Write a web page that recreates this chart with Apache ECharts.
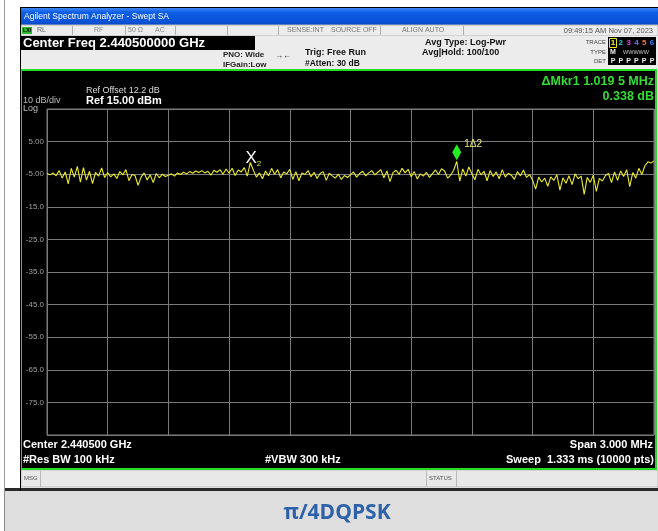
<!DOCTYPE html>
<html><head><meta charset="utf-8">
<script src="https://cdn.jsdelivr.net/npm/echarts@6/dist/echarts.min.js"></script>
<style>html,body{margin:0;padding:0;background:#fff}#c{width:658px;height:531px}</style>
</head><body><div id="c"></div>
<script>
// ---- data ----
const freqOffsetStartKHz = -1500;   // Center 2.440500 GHz, Span 3.000 MHz
const freqStepKHz = 15;
const traceDbm = [
 -4.8,-5.2,-4.6,-5.5,-3.9,-6.2,-4.3,-8.0,-3.2,-5.9,-2.6,-7.4,-3.0,-6.8,-4.1,-7.9,-4.4,-5.6,-3.1,-6.0,
 -4.5,-5.8,-4.9,-6.3,-4.2,-5.2,-3.6,-7.0,-5.1,-5.4,-8.4,-5.9,-4.6,-6.8,-5.2,-7.6,-4.8,-6.1,-5.0,-5.7,
 -5.3,-4.9,-5.6,-4.6,-5.1,-4.4,-4.9,-4.2,-4.7,-4.0,-4.5,-3.9,-4.6,-4.1,-5.3,-3.8,-4.4,-3.6,-5.0,-3.4,-4.7,-3.2,-5.4,-3.7,-4.3,-3.0,-5.6,
 -1.4,
 -3.8,-5.9,-4.6,-6.4,-4.0,-5.5,-3.2,-5.0,-3.6,-6.1,-4.3,-4.9,-3.5,-6.6,-4.2,-7.0,-4.6,-5.1,-3.9,-5.8,-4.4,-6.3,-4.8,-4.2,-6.9,-4.7,-5.5,-6.2,-5.0,-6.6,-5.4,-6.0,
 -5.2,-4.3,-5.9,-4.8,-4.1,-5.5,-4.6,-3.9,-5.2,-4.4,-3.6,-6.1,-4.0,-7.3,-4.5,-3.8,-5.0,-3.2,-4.6,-3.5,-5.8,-4.2,-6.5,-4.9,-5.6,-4.4,-6.0,-4.8,-3.7,-5.1,-3.3,-4.0,-6.2,-5.3,-3.8,
 -1.06,
 -7.1,-3.4,-5.6,-2.8,-4.9,-6.7,-3.5,-5.2,-4.1,-7.0,-3.9,-5.7,-4.3,-6.4,-3.6,-5.9,-4.7,-5.3,-6.6,-4.2,-5.5,-3.7,-6.0,-5.1,
 -6.8,-9.6,-5.9,-7.4,-6.2,-8.7,-5.8,-6.9,-5.2,-9.9,-6.1,-7.8,-5.5,-8.2,-4.9,-6.4,-5.6,-11.2,-6.0,-7.5,-5.3,-10.3,-6.3,-7.1,-5.4,
 -4.8,-7.6,-4.3,-6.9,-4.0,-5.7,-3.6,-8.8,-4.5,-6.2,-3.2,-5.1,-2.4,-1.2,-1.6,-0.9
];
const yMin = -85, yMax = 15, yStep = 10;
const yTickLabels = {'5':'5.00','-5':'-5.00','-15':'-15.0','-25':'-25.0','-35':'-35.0','-45':'-45.0','-55':'-55.0','-65':'-65.0','-75':'-75.0'};
const marker1Index = 135, marker2Index = 67;
const markerText = ['\u0394Mkr1 1.019 5 MHz', '0.338 dB'];

// ---- build ----
const seriesData = traceDbm.map((v, i) => [freqOffsetStartKHz + i * freqStepKHz, v]);
const FF = '"Liberation Sans", Arial, sans-serif';
function T(text, x, y, o) {
  o = o || {};
  return { type: 'text', z: o.z || 50, silent: true, style: {
    text: text, x: x, y: y, fill: o.fill || '#fff', fontSize: o.size || 9,
    fontWeight: o.bold ? 'bold' : 'normal', fontFamily: o.ff || FF,
    align: o.align || 'left', verticalAlign: 'middle' } };
}
function R(x, y, w, h, fill, o) {
  o = o || {};
  return { type: 'rect', z: o.z != null ? o.z : -50, silent: true, shape: { x: x, y: y, width: w, height: h },
    style: { fill: fill, stroke: o.stroke || null, lineWidth: o.lw || 1 } };
}
function L(x1, y1, x2, y2, c, w, z) {
  return { type: 'line', z: z != null ? z : -40, silent: true, shape: { x1: x1, y1: y1, x2: x2, y2: y2 },
    style: { stroke: c, lineWidth: w || 1 } };
}
const g = [];
// left margin line and outer frame
g.push(L(4.5, 0, 4.5, 491, '#9a9a9a', 1));
g.push(L(20, 7.5, 658, 7.5, '#000', 1));
g.push(L(20.5, 7, 20.5, 491, '#000', 1));
// title bar
g.push({ type: 'rect', z: -50, silent: true, shape: { x: 21, y: 8, width: 637, height: 17 },
  style: { fill: new echarts.graphic.LinearGradient(0, 0, 0, 1, [
    { offset: 0, color: '#3d86f2' }, { offset: 0.25, color: '#0f5ee6' }, { offset: 0.8, color: '#0a52d8' }, { offset: 1, color: '#0848c0' }]) } });
g.push(T('Agilent Spectrum Analyzer - Swept SA', 24, 17, { size: 8.5, fill: '#fff' }));
// status row
g.push(R(21, 25, 637, 11, '#ececec', { stroke: '#b8b8b8' }));
[72, 125, 175, 227, 278, 380, 463].forEach(x => g.push(L(x + 0.5, 26, x + 0.5, 35, '#b0b0b0', 1, -30)));
g.push(R(22, 27, 10, 7, '#2fb52f', { z: -20 }));
g.push(T('LXI', 27, 30.5, { size: 5, fill: '#000', bold: true, align: 'center' }));
g.push(T('RL', 37, 30.5, { size: 7, fill: '#666' }));
g.push(T('RF', 94, 30.5, { size: 7, fill: '#888' }));
g.push(T('50 \u03a9', 128, 30.5, { size: 7, fill: '#888' }));
g.push(T('AC', 155, 30.5, { size: 7, fill: '#888' }));
g.push(T('SENSE:INT', 287, 30.5, { size: 7, fill: '#777' }));
g.push(T('SOURCE OFF', 331, 30.5, { size: 7, fill: '#777' }));
g.push(T('ALIGN AUTO', 402, 30.5, { size: 7, fill: '#777' }));
g.push(T('09:49:15 AM Nov 07, 2023', 653, 30.5, { size: 7.5, fill: '#555', align: 'right' }));
// settings row
g.push(R(21, 36, 637, 34, '#ececec'));
g.push(R(21, 36, 234, 14, '#000', { z: -45 }));
g.push(T('Center Freq 2.440500000 GHz', 23, 43.5, { size: 13, bold: true }));
g.push(T('PNO: Wide', 223, 55, { size: 8, bold: true, fill: '#222' }));
g.push(T('IFGain:Low', 223, 65, { size: 8, bold: true, fill: '#222' }));
g.push(T('\u2192\u2190', 283, 55.5, { size: 8, bold: true, fill: '#222', align: 'center' }));
g.push(T('Trig: Free Run', 305, 53, { size: 9, bold: true, fill: '#111' }));
g.push(T('#Atten: 30 dB', 305, 63.5, { size: 8.5, bold: true, fill: '#111' }));
g.push(T('Avg Type: Log-Pwr', 425, 42.5, { size: 9, bold: true, fill: '#111' }));
g.push(T('Avg|Hold: 100/100', 422, 52.5, { size: 9, bold: true, fill: '#111' }));
g.push(T('TRACE', 606, 42, { size: 6, fill: '#444', align: 'right' }));
g.push(T('TYPE', 606, 52, { size: 6, fill: '#444', align: 'right' }));
g.push(T('DET', 606, 61, { size: 6, fill: '#444', align: 'right' }));
g.push(R(608, 37, 48, 28, '#000', { z: -45 }));
g.push(R(609.5, 38.5, 7, 9, 'transparent', { z: 40, stroke: '#e8e820' }));
const trCols = ['#f0f020', '#20d8d8', '#e040e0', '#7070ff', '#ff7040', '#4080ff'];
trCols.forEach((c, k) => {
  g.push(T(String(k + 1), 613 + k * 7.8, 43, { size: 8, bold: true, fill: c, align: 'center' }));
  g.push(T('P', 613 + k * 7.8, 61, { size: 7, bold: true, fill: '#eee', align: 'center' }));
});
g.push(T('M', 613, 52, { size: 7, bold: true, fill: '#eee', align: 'center' }));
g.push(T('WWWWW', 636, 52, { size: 5.5, fill: '#ccc', align: 'center' }));
// instrument screen
g.push(R(21, 70, 635, 399, '#000', { z: -48, stroke: '#22dd22', lw: 2 }));
g.push(T('10 dB/div', 23, 100.5, { size: 9, fill: '#bbb' }));
g.push(T('Log', 23, 108.5, { size: 9, fill: '#bbb' }));
g.push(T('Ref Offset 12.2 dB', 86, 90.5, { size: 9, fill: '#ddd' }));
g.push(T('Ref 15.00 dBm', 86, 100.5, { size: 11, bold: true, fill: '#fff' }));
g.push(T(markerText[0], 654, 82, { size: 12.5, bold: true, fill: '#33dd33', align: 'right' }));
g.push(T(markerText[1], 654, 96.5, { size: 12.5, bold: true, fill: '#33dd33', align: 'right' }));
g.push(T('Center 2.440500 GHz', 23, 445, { size: 11, bold: true }));
g.push(T('#Res BW 100 kHz', 23, 459.5, { size: 11, bold: true }));
g.push(T('#VBW 300 kHz', 265, 459.5, { size: 11, bold: true }));
g.push(T('Span 3.000 MHz', 653, 445, { size: 11, bold: true, align: 'right' }));
g.push(T('Sweep  1.333 ms (10000 pts)', 654, 459.5, { size: 11, bold: true, align: 'right' }));
// message bar
g.push(R(21, 470, 637, 17, '#e8e8e8', { stroke: '#bdbdbd' }));
g.push(L(40.5, 471, 40.5, 487, '#bbb', 1, -30));
g.push(L(426.5, 471, 426.5, 487, '#bbb', 1, -30));
g.push(L(456.5, 471, 456.5, 487, '#bbb', 1, -30));
g.push(T('MSG', 24, 478.5, { size: 6, fill: '#555' }));
g.push(T('STATUS', 429, 478.5, { size: 6, fill: '#555' }));
g.push(R(4, 488, 654, 3, '#2a2a2a'));
// caption band
g.push(R(4, 491, 654, 40, '#dedede'));
g.push(L(4.5, 491, 4.5, 531, '#888', 1));
g.push(T('\u03c0/4DQPSK', 337, 513, { size: 21, bold: true, fill: '#2e62a8', align: 'center', ff: '"Open Sans", "Noto Sans", sans-serif' }));

const chart = echarts.init(document.getElementById('c'), null, { renderer: 'canvas' });
chart.setOption({
  backgroundColor: '#ffffff',
  animation: false,
  graphic: g,
  grid: { left: 47, top: 109, width: 607, height: 326, show: true, borderColor: '#7a7a7a', borderWidth: 1, backgroundColor: 'transparent' },
  xAxis: { type: 'value', min: -1500, max: 1500, interval: 300,
    axisLabel: { show: false }, axisTick: { show: false },
    axisLine: { show: false }, splitLine: { show: true, lineStyle: { color: '#7a7a7a', width: 1 } } },
  yAxis: { type: 'value', min: yMin, max: yMax, interval: yStep,
    axisTick: { show: false }, axisLine: { show: false },
    splitLine: { show: true, lineStyle: { color: '#7a7a7a', width: 1 } },
    axisLabel: { margin: 3, fontSize: 8, color: '#a0a0a0', fontFamily: FF,
      formatter: v => yTickLabels[String(Math.round(v))] || '' } },
  series: [{
    type: 'line', data: seriesData, showSymbol: false, symbol: 'none',
    lineStyle: { color: '#ecec2a', width: 1.1 }, z: 5,
    markPoint: { silent: true, animation: false, data: [
      { coord: seriesData[marker1Index], symbol: 'diamond', symbolSize: [9, 16], symbolOffset: [0, -9],
        itemStyle: { color: '#22ee22' },
        label: { show: true, position: 'right', distance: 3, offset: [0, -8], formatter: '1\u03942', color: '#e8e870', fontSize: 10, fontFamily: FF } },
      { coord: seriesData[marker2Index], symbol: 'circle', symbolSize: 1, itemStyle: { color: 'rgba(0,0,0,0)' },
        label: { show: true, position: 'inside', offset: [3, -4], formatter: '{x|X}{s|2}',
          rich: { x: { color: '#ffffff', fontSize: 17, fontFamily: FF }, s: { color: '#e8e820', fontSize: 8, fontFamily: FF, padding: [10, 0, 0, 0] } } } }
    ] }
  }]
});
</script></body></html>
